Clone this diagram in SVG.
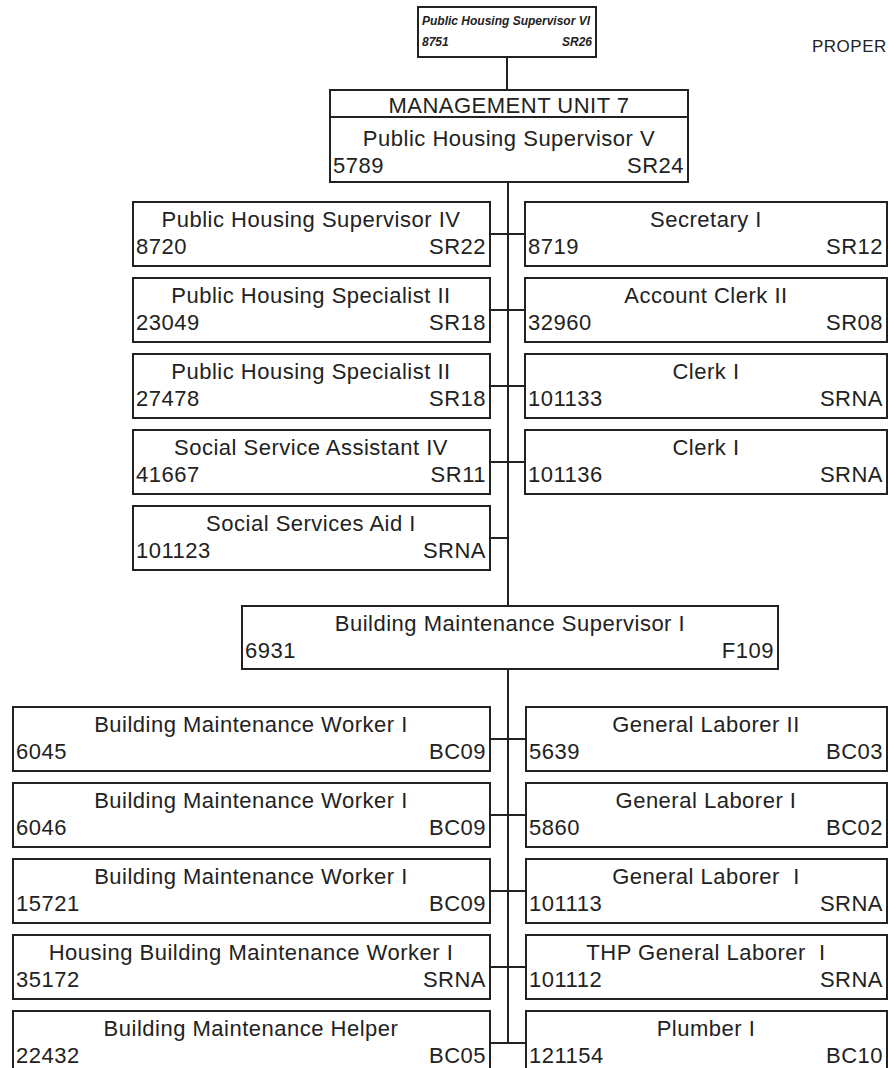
<svg xmlns="http://www.w3.org/2000/svg" width="888" height="1068" viewBox="0 0 888 1068">
<style>
.bx{fill:#fff;stroke:#222;stroke-width:2}
.t{font-family:"Liberation Sans",Arial,sans-serif;font-size:22px;letter-spacing:0.5px;fill:#222;white-space:pre}
.c{text-anchor:middle}
.r{text-anchor:end}
.s{font-family:"Liberation Sans",Arial,sans-serif;font-size:12px;font-weight:bold;font-style:italic;fill:#222}
.ln{stroke:#222;stroke-width:2;fill:none}
</style>
<rect width="888" height="1068" fill="#fff"/>
<text class="t" x="812" y="52" style="font-size:17px">PROPER</text>
<g id="connectors">
<path class="ln" d="M507,57V90 M508,182V606 M508,669V1043"/>
<path class="ln" d="M490,234H525 M490,310H525 M490,386H525 M490,462H525 M490,538H508"/>
<path class="ln" d="M490,739H526 M490,815H526 M490,891H526 M490,967H526 M490,1043H526"/>
</g>
<g id="n_top"><rect class="bx" x="418" y="7" width="178" height="50"/>
<text class="s" x="422" y="25">Public Housing Supervisor VI</text>
<text class="s" x="422" y="46">8751</text><text class="s r" x="592" y="46">SR26</text></g>
<g id="n_mu7"><rect class="bx" x="330" y="90" width="358" height="92"/>
<line class="ln" x1="330" y1="117" x2="688" y2="117"/>
<text class="t c" x="509" y="113">MANAGEMENT UNIT 7</text>
<text class="t c" x="509" y="146">Public Housing Supervisor V</text>
<text class="t" x="333" y="173">5789</text><text class="t r" x="684" y="173">SR24</text></g>
<g id="n_8720"><rect class="bx" x="133" y="202" width="357" height="64"/>
<text class="t c" x="311" y="227">Public Housing Supervisor IV</text>
<text class="t" x="136" y="254">8720</text><text class="t r" x="486" y="254">SR22</text></g>
<g id="n_23049"><rect class="bx" x="133" y="278" width="357" height="64"/>
<text class="t c" x="311" y="303">Public Housing Specialist II</text>
<text class="t" x="136" y="330">23049</text><text class="t r" x="486" y="330">SR18</text></g>
<g id="n_27478"><rect class="bx" x="133" y="354" width="357" height="64"/>
<text class="t c" x="311" y="379">Public Housing Specialist II</text>
<text class="t" x="136" y="406">27478</text><text class="t r" x="486" y="406">SR18</text></g>
<g id="n_41667"><rect class="bx" x="133" y="430" width="357" height="64"/>
<text class="t c" x="311" y="455">Social Service Assistant IV</text>
<text class="t" x="136" y="482">41667</text><text class="t r" x="486" y="482">SR11</text></g>
<g id="n_101123"><rect class="bx" x="133" y="506" width="357" height="64"/>
<text class="t c" x="311" y="531">Social Services Aid I</text>
<text class="t" x="136" y="558">101123</text><text class="t r" x="486" y="558">SRNA</text></g>
<g id="n_8719"><rect class="bx" x="525" y="202" width="362" height="64"/>
<text class="t c" x="706" y="227">Secretary I</text>
<text class="t" x="528" y="254">8719</text><text class="t r" x="883" y="254">SR12</text></g>
<g id="n_32960"><rect class="bx" x="525" y="278" width="362" height="64"/>
<text class="t c" x="706" y="303">Account Clerk II</text>
<text class="t" x="528" y="330">32960</text><text class="t r" x="883" y="330">SR08</text></g>
<g id="n_101133"><rect class="bx" x="525" y="354" width="362" height="64"/>
<text class="t c" x="706" y="379">Clerk I</text>
<text class="t" x="528" y="406">101133</text><text class="t r" x="883" y="406">SRNA</text></g>
<g id="n_101136"><rect class="bx" x="525" y="430" width="362" height="64"/>
<text class="t c" x="706" y="455">Clerk I</text>
<text class="t" x="528" y="482">101136</text><text class="t r" x="883" y="482">SRNA</text></g>
<g id="n_6931"><rect class="bx" x="242" y="606" width="536" height="63"/>
<text class="t c" x="510" y="631">Building Maintenance Supervisor I</text>
<text class="t" x="245" y="658">6931</text><text class="t r" x="774" y="658">F109</text></g>
<g id="n_6045"><rect class="bx" x="13" y="707" width="477" height="64"/>
<text class="t c" x="251" y="732">Building Maintenance Worker I</text>
<text class="t" x="16" y="759">6045</text><text class="t r" x="486" y="759">BC09</text></g>
<g id="n_6046"><rect class="bx" x="13" y="783" width="477" height="64"/>
<text class="t c" x="251" y="808">Building Maintenance Worker I</text>
<text class="t" x="16" y="835">6046</text><text class="t r" x="486" y="835">BC09</text></g>
<g id="n_15721"><rect class="bx" x="13" y="859" width="477" height="64"/>
<text class="t c" x="251" y="884">Building Maintenance Worker I</text>
<text class="t" x="16" y="911">15721</text><text class="t r" x="486" y="911">BC09</text></g>
<g id="n_35172"><rect class="bx" x="13" y="935" width="477" height="64"/>
<text class="t c" x="251" y="960">Housing Building Maintenance Worker I</text>
<text class="t" x="16" y="987">35172</text><text class="t r" x="486" y="987">SRNA</text></g>
<g id="n_22432"><rect class="bx" x="13" y="1011" width="477" height="64"/>
<text class="t c" x="251" y="1036">Building Maintenance Helper</text>
<text class="t" x="16" y="1063">22432</text><text class="t r" x="486" y="1063">BC05</text></g>
<g id="n_5639"><rect class="bx" x="526" y="707" width="361" height="64"/>
<text class="t c" x="706" y="732">General Laborer II</text>
<text class="t" x="529" y="759">5639</text><text class="t r" x="883" y="759">BC03</text></g>
<g id="n_5860"><rect class="bx" x="526" y="783" width="361" height="64"/>
<text class="t c" x="706" y="808">General Laborer I</text>
<text class="t" x="529" y="835">5860</text><text class="t r" x="883" y="835">BC02</text></g>
<g id="n_101113"><rect class="bx" x="526" y="859" width="361" height="64"/>
<text class="t c" x="706" y="884">General Laborer  I</text>
<text class="t" x="529" y="911">101113</text><text class="t r" x="883" y="911">SRNA</text></g>
<g id="n_101112"><rect class="bx" x="526" y="935" width="361" height="64"/>
<text class="t c" x="706" y="960">THP General Laborer  I</text>
<text class="t" x="529" y="987">101112</text><text class="t r" x="883" y="987">SRNA</text></g>
<g id="n_121154"><rect class="bx" x="526" y="1011" width="361" height="64"/>
<text class="t c" x="706" y="1036">Plumber I</text>
<text class="t" x="529" y="1063">121154</text><text class="t r" x="883" y="1063">BC10</text></g>
</svg>
